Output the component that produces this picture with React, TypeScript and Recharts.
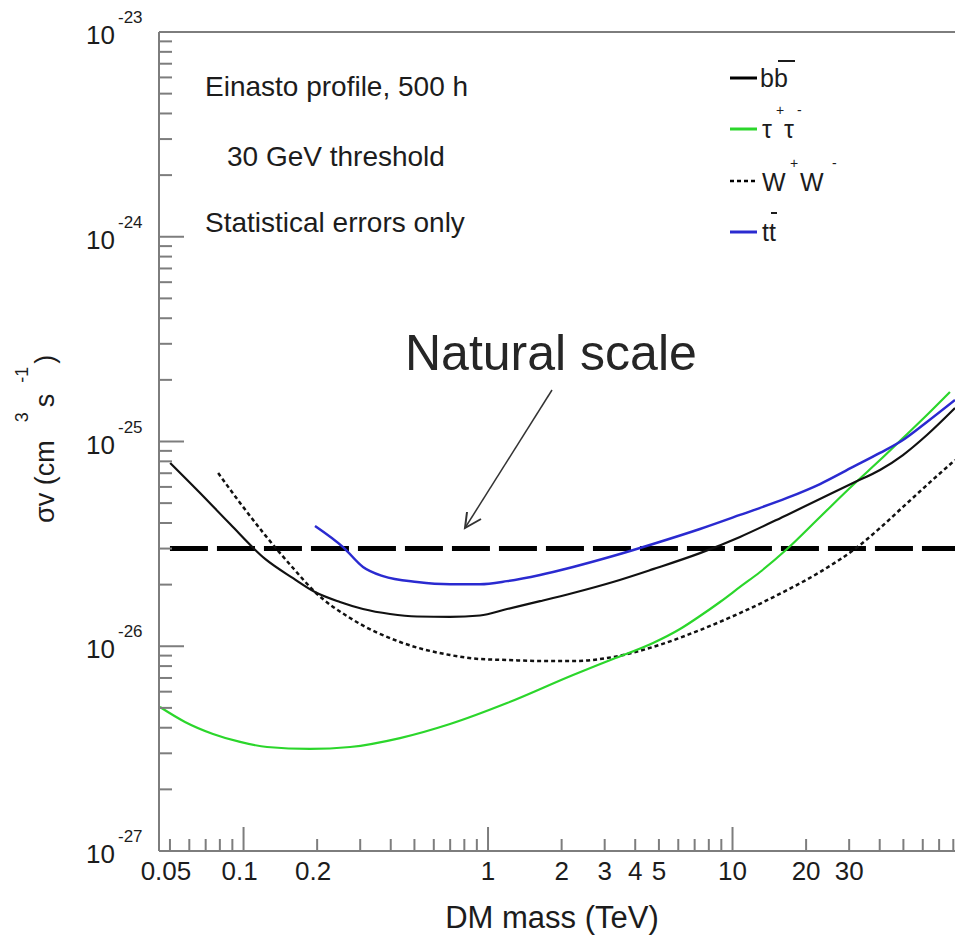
import { LineChart, Line, XAxis, YAxis, ReferenceLine } from 'recharts'

// DM mass (TeV) and <sigma v> (cm^3 s^-1)
const massBB = [0.0501, 0.0664, 0.0881, 0.1225, 0.1594, 0.196, 0.248, 0.308, 0.3973, 0.5125, 0.699, 0.927, 1.196, 1.632, 2.227, 3.245, 4.73, 7.36, 10.73, 16.71, 31.1, 40.1, 49.8, 62.4, 81.3]
const sigmaBB = [7.85e-26, 5.6e-26, 3.95e-26, 2.67e-26, 2.15e-26, 1.84e-26, 1.645e-26, 1.52e-26, 1.437e-26, 1.397e-26, 1.39e-26, 1.413e-26, 1.52e-26, 1.66e-26, 1.82e-26, 2.06e-26, 2.38e-26, 2.85e-26, 3.42e-26, 4.38e-26, 6.27e-26, 7.26e-26, 8.59e-26, 1.076e-25, 1.458e-25]

const massTau = [0.0455, 0.0576, 0.075, 0.0968, 0.1248, 0.187, 0.2727, 0.4366, 0.699, 1.196, 2.227, 3.245, 4.73, 6.1, 7.36, 8.89, 10.73, 12.96, 16.71, 22.8, 31.1, 40.1, 49.8, 62.4, 77.5]
const sigmaTau = [5.05e-27, 4.27e-27, 3.73e-27, 3.41e-27, 3.22e-27, 3.15e-27, 3.22e-27, 3.56e-27, 4.17e-27, 5.28e-27, 7.24e-27, 8.66e-27, 1.037e-26, 1.214e-26, 1.405e-26, 1.645e-26, 1.948e-26, 2.305e-26, 2.985e-26, 4.28e-26, 6.13e-26, 8.12e-26, 1.04e-25, 1.347e-25, 1.745e-25]

const massWW = [0.0787, 0.0968, 0.1225, 0.1594, 0.196, 0.2727, 0.4366, 0.699, 0.927, 1.196, 1.632, 2.227, 3.245, 4.73, 7.36, 10.73, 16.71, 22.8, 33.2, 40.1, 49.8, 62.4, 81.3]
const sigmaWW = [7.02e-26, 5.01e-26, 3.49e-26, 2.41e-26, 1.84e-26, 1.374e-26, 1.049e-26, 9.06e-27, 8.66e-27, 8.57e-27, 8.47e-27, 8.47e-27, 8.86e-27, 9.92e-27, 1.2e-26, 1.453e-26, 1.88e-26, 2.305e-26, 3.12e-26, 3.78e-26, 4.79e-26, 6.13e-26, 8.12e-26]

const massTT = [0.196, 0.2553, 0.308, 0.372, 0.5125, 0.699, 0.927, 1.196, 1.632, 2.227, 3.245, 4.73, 7.36, 10.73, 16.71, 22.8, 31.1, 40.1, 49.8, 62.4, 81.3]
const sigmaTT = [3.87e-26, 3.05e-26, 2.44e-26, 2.2e-26, 2.06e-26, 2.01e-26, 2.01e-26, 2.08e-26, 2.23e-26, 2.44e-26, 2.76e-26, 3.16e-26, 3.74e-26, 4.38e-26, 5.3e-26, 6.2e-26, 7.51e-26, 8.79e-26, 1.017e-25, 1.245e-25, 1.595e-25]

const massNatural = [0.05, 100]
const sigmaNatural = [3e-26, 3e-26]

// axis ticks
const xDecades = [0.01, 0.1, 1, 10]
const xSteps = [1, 2, 3, 4, 5, 6, 7, 8, 9]
const xMajor = [0.1, 1, 10]
const xLabels = [0.05, 0.1, 0.2, 1, 2, 3, 4, 5, 10, 20, 30]
const yDecades = [1e-27, 1e-26, 1e-25, 1e-24, 1e-23]
const ySteps = [1, 2, 3, 4, 5, 6, 7, 8, 9]

const xTicks = xDecades
  .flatMap((d) => xSteps.map((s) => s * d))
  .filter((v) => v >= 0.0499 && v < 100)
const yTicks = yDecades.flatMap((d) => (d === 1e-23 ? [d] : ySteps.map((s) => s * d)))

const toRows = (m: number[], s: number[]) => m.map((x, i) => ({ m: x, v: s[i] }))

const FONT = '"Liberation Sans", Arial, Helvetica, sans-serif'
const AXIS = '#7d7d7d'
const INK = '#1c1c1c'

const near = (a: number, b: number) => Math.abs(a - b) / b < 1e-6

function XTick(props: any) {
  const { x, y, payload } = props
  const v = payload.value as number
  const major = xMajor.some((t) => near(v, t))
  const lab = xLabels.find((t) => near(v, t))
  return (
    <g>
      <line x1={x} x2={x} y1={y} y2={y - (major ? 24 : 12)} stroke={AXIS} strokeWidth={2} />
      {lab !== undefined && (
        <text x={x + (lab < 1 ? -4 : 0)} y={y + 29} textAnchor="middle" fontSize={26} fontFamily={FONT} fill={INK}>
          {String(lab)}
        </text>
      )}
    </g>
  )
}

function YTick(props: any) {
  const { x, y, payload } = props
  const v = payload.value as number
  const exp = Math.round(Math.log10(v))
  const major = near(v, Math.pow(10, exp))
  return (
    <g>
      <line x1={x} x2={x + (major ? 25 : 13)} y1={y} y2={y} stroke={AXIS} strokeWidth={2} />
      {major && (
        <>
          <text x={x - 44} y={y + 12} textAnchor="end" fontSize={26} fontFamily={FONT} fill={INK}>
            10
          </text>
          <text x={x - 41} y={y - 9} fontSize={17} fontFamily={FONT} fill={INK}>
            {String(exp)}
          </text>
        </>
      )}
    </g>
  )
}

function Overlay() {
  const t = { fontFamily: FONT, fill: INK }
  return (
    <svg width={955} height={937} style={{ position: 'absolute', left: 0, top: 0, pointerEvents: 'none' }}>
      <text x={205} y={96} fontSize={28} {...t}>Einasto profile, 500 h</text>
      <text x={227} y={166} fontSize={28} {...t}>30 GeV threshold</text>
      <text x={205} y={232} fontSize={28} {...t}>Statistical errors only</text>

      <text x={405} y={370} fontSize={50} {...t} fill="#262626">Natural scale</text>
      <line x1={552} y1={390} x2={465} y2={528} stroke="#333" strokeWidth={1.5} />
      <path d="M 481 519 L 465 528 L 467 512" fill="none" stroke="#333" strokeWidth={2} />

      {/* legend */}
      <line x1={730} x2={757} y1={78} y2={78} stroke="#000" strokeWidth={3} />
      <text x={760} y={87} fontSize={25} {...t}>bb</text>
      <line x1={778} x2={795} y1={61} y2={61} stroke={INK} strokeWidth={2} />

      <line x1={730} x2={757} y1={129} y2={129} stroke="#2bd62b" strokeWidth={3} />
      <text x={762} y={138} fontSize={25} {...t}>τ</text>
      <text x={776} y={115} fontSize={14} {...t}>+</text>
      <text x={784} y={138} fontSize={25} {...t}>τ</text>
      <text x={797} y={115} fontSize={14} {...t}>-</text>

      <line x1={730} x2={757} y1={181} y2={181} stroke="#000" strokeWidth={2.5} strokeDasharray="4 3" />
      <text x={762} y={191} fontSize={25} {...t}>W</text>
      <text x={790} y={168} fontSize={14} {...t}>+</text>
      <text x={800} y={191} fontSize={25} {...t}>W</text>
      <text x={832} y={168} fontSize={14} {...t}>-</text>

      <line x1={730} x2={757} y1={232} y2={232} stroke="#2a2ad0" strokeWidth={3} />
      <text x={762} y={241} fontSize={25} {...t}>tt</text>
      <line x1={771} x2={777} y1={213} y2={213} stroke={INK} strokeWidth={2} />

      {/* y axis title */}
      <text transform="translate(54 523) rotate(-90)" fontSize={27} {...t}>
        <tspan>σv (cm</tspan>
        <tspan dx={18} dy={-26} fontSize={18}>3</tspan>
        <tspan dx={5} dy={26}>s</tspan>
        <tspan dx={11} dy={-26} fontSize={18}>-1</tspan>
        <tspan dx={3} dy={26}>)</tspan>
      </text>

      <text x={552} y={928} textAnchor="middle" fontSize={31} {...t}>DM mass (TeV)</text>
    </svg>
  )
}

export default function App() {
  return (
    <div style={{ position: 'absolute', left: 0, top: 0, width: 955, height: 937, overflow: 'hidden', background: '#fff' }}>
      <LineChart width={1000} height={937} margin={{ top: 32, right: 23, bottom: 0, left: 0 }}>
        <XAxis
          dataKey="m"
          type="number"
          scale="log"
          domain={[0.0451, 100]}
          allowDataOverflow
          ticks={xTicks}
          interval={0}
          tick={<XTick />}
          tickSize={0}
          tickMargin={0}
          tickLine={false}
          height={86}
          axisLine={{ stroke: AXIS, strokeWidth: 2 }}
        />
        <YAxis
          dataKey="v"
          type="number"
          scale="log"
          domain={[1e-27, 1e-23]}
          allowDataOverflow
          ticks={yTicks}
          interval={0}
          tick={<YTick />}
          tickSize={0}
          tickMargin={0}
          tickLine={false}
          width={159}
          axisLine={{ stroke: AXIS, strokeWidth: 2 }}
        />
        <ReferenceLine y={1e-23} stroke={AXIS} strokeWidth={2} />
        <Line data={toRows(massNatural, sigmaNatural)} dataKey="v" type="linear" stroke="#000" strokeWidth={5} strokeDasharray="38 9" dot={false} isAnimationActive={false} />
        <Line data={toRows(massWW, sigmaWW)} dataKey="v" type="monotone" stroke="#111" strokeWidth={2.5} strokeDasharray="4 3" dot={false} isAnimationActive={false} />
        <Line data={toRows(massTau, sigmaTau)} dataKey="v" type="monotone" stroke="#2bd62b" strokeWidth={2.2} dot={false} isAnimationActive={false} />
        <Line data={toRows(massBB, sigmaBB)} dataKey="v" type="monotone" stroke="#111" strokeWidth={2.2} dot={false} isAnimationActive={false} />
        <Line data={toRows(massTT, sigmaTT)} dataKey="v" type="monotone" stroke="#2a2ad0" strokeWidth={2.5} dot={false} isAnimationActive={false} />
      </LineChart>
      <Overlay />
    </div>
  )
}
